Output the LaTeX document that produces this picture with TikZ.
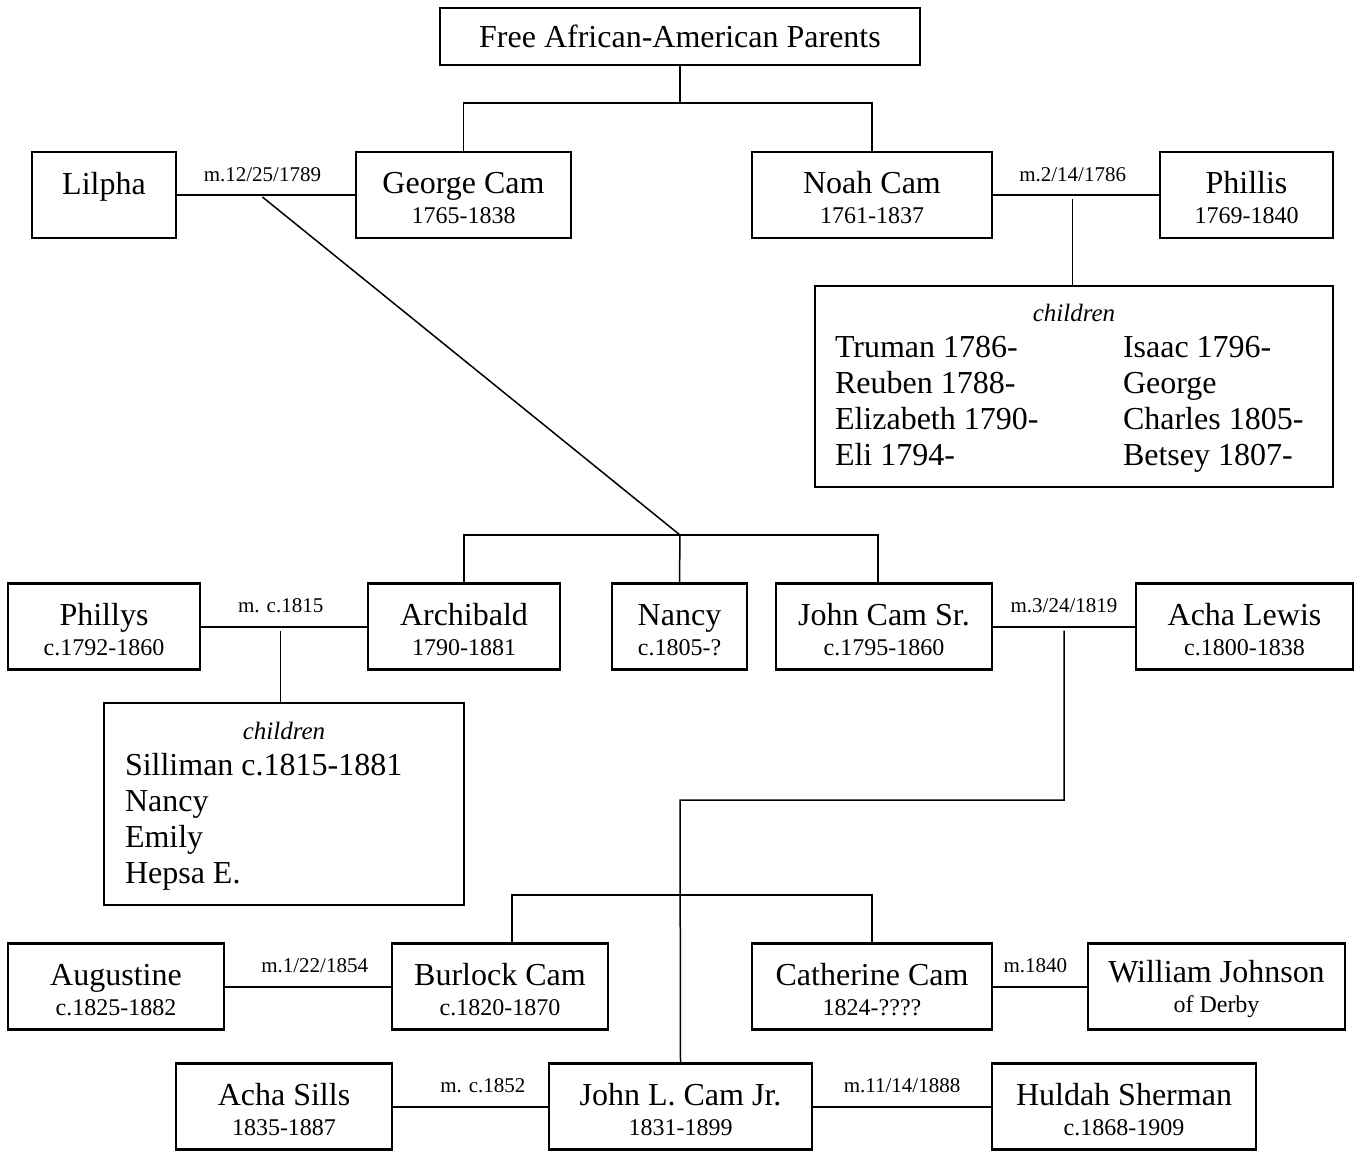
\documentclass[tikz,border=0pt]{standalone}
\usepackage{fontspec}
\setmainfont{Liberation Serif}
\newcommand{\namefont}{\fontsize{16}{15}\selectfont}
\newcommand{\datefont}{\fontsize{12}{15}\selectfont}
\newcommand{\wedfont}{\fontsize{10.5}{12}\selectfont}
\newcommand{\kidsfont}{\fontsize{12.5}{18}\selectfont\itshape}
\newcommand{\pers}[2]{\rule{0pt}{14pt}#1\\{\datefont #2}}
\begin{document}
\begin{tikzpicture}[x=0.5pt,y=-0.5pt,
  person/.style={draw,line width=1.1pt,inner sep=0pt,minimum height=43pt,align=center,font=\namefont},
  kids/.style={draw,line width=1.1pt,inner sep=0pt,font=\fontsize{16}{18}\selectfont},
  wed/.style={line width=1pt},
  desc/.style={line width=0.75pt},
  wedlbl/.style={font=\wedfont,anchor=base,inner sep=0pt,yshift=7pt}]
  \useasboundingbox (0,0) rectangle (1355,1152);

  % first generation
  \node[person,minimum height=28.5pt,minimum width=240pt] (parents) at (680,36.5) {Free African-American Parents};
  \node[person,minimum width=72pt] (lilpha) at (104,195) {\pers{Lilpha}{\mbox{}}};
  \node[person,minimum width=107.5pt] (george) at (463.5,195) {\pers{George Cam}{1765-1838}};
  \node[person,minimum width=120pt] (noah) at (872,195) {\pers{Noah Cam}{1761-1837}};
  \node[person,minimum width=86.5pt] (phillis) at (1246.5,195) {\pers{Phillis}{1769-1840}};
  \node[kids,minimum width=259pt,minimum height=100.5pt] (noahkids) at (1074,386.5) {%
    \begin{tabular}{@{}p{144pt}@{}p{95pt}@{}}
      \multicolumn{2}{@{}c@{}}{\kidsfont children}\\
      Truman 1786- & Isaac 1796-\\
      Reuben 1788- & George\\
      Elizabeth 1790- & Charles 1805-\\
      Eli 1794- & Betsey 1807-
    \end{tabular}};

  % George's family
  \node[person,minimum width=96pt] (phillys) at (104,626.5) {\pers{Phillys}{c.1792-1860}};
  \node[person,minimum width=96pt] (archibald) at (464,626.5) {\pers{Archibald}{1790-1881}};
  \node[person,minimum width=67.5pt] (nancy) at (679.5,626.5) {\pers{Nancy}{c.1805-?}};
  \node[person,minimum width=108pt] (johnsr) at (884,626.5) {\pers{John Cam Sr.}{c.1795-1860}};
  \node[person,minimum width=108.5pt] (achalewis) at (1244.5,626.5) {\pers{Acha Lewis}{c.1800-1838}};
  \node[kids,minimum width=180pt,minimum height=101pt] (archkids) at (284,804) {%
    \begin{tabular}{@{}p{159pt}@{}}
      \multicolumn{1}{@{}c@{}}{\kidsfont children}\\
      Silliman c.1815-1881\\
      Nancy\\
      Emily\\
      Hepsa E.
    \end{tabular}};

  % John Sr.'s children
  \node[person,minimum width=108pt] (augustine) at (116,986.5) {\pers{Augustine}{c.1825-1882}};
  \node[person,minimum width=108pt] (burlock) at (500,986.5) {\pers{Burlock Cam}{c.1820-1870}};
  \node[person,minimum width=120pt] (catherine) at (872,986.5) {\pers{Catherine Cam}{1824-????}};
  \node[person,minimum width=128.5pt] (william) at (1216.5,986.5) {\pers{William Johnson}{of Derby}};
  \node[person,minimum width=108pt] (achasills) at (284,1106.5) {\pers{Acha Sills}{1835-1887}};
  \node[person,minimum width=131.5pt] (johnjr) at (680.5,1106.5) {\pers{John L. Cam Jr.}{1831-1899}};
  \node[person,minimum width=132pt] (huldah) at (1124,1106.5) {\pers{Huldah Sherman}{c.1868-1909}};

  % bends
  \coordinate (pbar) at (680,103);
  \coordinate (gkids) at (680,535);
  \coordinate (jbend) at (680,800);
  \coordinate (jbar) at (680,895);

  % marriages
  \draw[wed] (lilpha) -- node[wedlbl,pos=0.48]{m.12/25/1789} coordinate[pos=0.48] (gm) (george);
  \draw[wed] (noah) -- node[wedlbl,pos=0.48]{m.2/14/1786} coordinate[pos=0.48] (nm) (phillis);
  \draw[wed] (phillys) -- node[wedlbl,pos=0.48]{m. c.1815} coordinate[pos=0.48] (am) (archibald);
  \draw[wed] (johnsr) -- node[wedlbl]{m.3/24/1819} coordinate (jm) (achalewis);
  \draw[wed] (augustine) -- node[wedlbl,pos=0.54]{m.1/22/1854} (burlock);
  \draw[wed] (catherine) -- node[wedlbl,pos=0.45]{m.1840} (william);
  \draw[wed] (achasills) -- node[wedlbl,pos=0.58]{m. c.1852} (johnjr);
  \draw[wed] (johnjr) -- node[wedlbl]{m.11/14/1888} (huldah);

  % descent
  \draw[desc] (parents.south) -- (pbar);
  \draw[desc] (george.north) |- (pbar) -| (noah.north);
  \draw[desc] ([yshift=-1pt]gm) -- (gkids);
  \draw[desc] (archibald.north) |- (gkids) -| ([xshift=-3pt]johnsr.north);
  \draw[desc] (nancy.north) -- (gkids);
  \draw[desc] ([yshift=-2pt]nm) -- (nm |- noahkids.north);
  \draw[desc] ([yshift=-2pt]am) -- (am |- archkids.north);
  \draw[desc] ([yshift=-2pt]jm) |- (jbend) -- (johnjr.north);
  \draw[desc] ([xshift=6pt]burlock.north) |- (jbar) -| (catherine.north);
\end{tikzpicture}
\end{document}
